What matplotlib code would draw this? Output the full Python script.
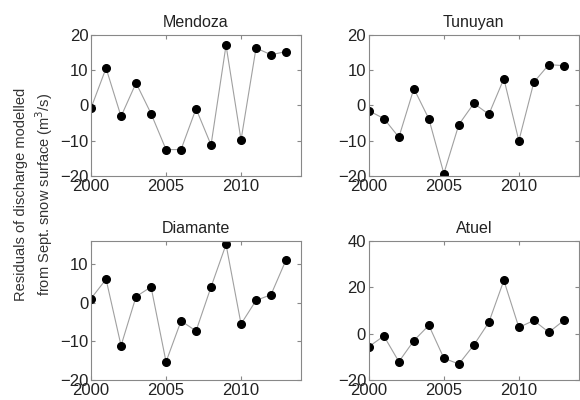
import matplotlib
matplotlib.use('Agg')
import matplotlib.pyplot as plt

plt.rcParams['font.family'] = ['Liberation Sans', 'DejaVu Sans']

years = list(range(2000, 2014))

mendoza = [-0.7, 10.6, -3.1, 6.4, -2.3, -12.5, -12.5, -0.9, -11.2, 17.1, -9.8, 16.3, 14.4, 15.3]
tunuyan = [-1.5, -3.7, -9.0, 4.8, -3.8, -19.3, -5.4, 0.6, -2.5, 7.6, -10.0, 6.6, 11.6, 11.3]
diamante = [1.1, 6.1, -11.1, 1.6, 4.1, -15.3, -4.7, -7.3, 4.1, 15.1, -5.5, 0.6, 2.1, 11.1]
atuel = [-5.6, -1.0, -12.1, -3.0, 3.6, -10.6, -13.1, -4.9, 4.9, 23.0, 2.7, 5.7, 0.6, 5.7]

names = ['Mendoza', 'Tunuyan', 'Diamante', 'Atuel']
series = [mendoza, tunuyan, diamante, atuel]
ylims = [(-20, 20), (-20, 20), (-20, 16), (-20, 40)]
yticks = [[-20, -10, 0, 10, 20], [-20, -10, 0, 10, 20], [-20, -10, 0, 10], [-20, 0, 20, 40]]

fig = plt.figure(figsize=(5.8, 4.0), dpi=100)
pos = [
    [0.157, 0.56, 0.362, 0.3525],
    [0.636, 0.56, 0.362, 0.3525],
    [0.157, 0.05, 0.362, 0.3475],
    [0.636, 0.05, 0.362, 0.3475],
]

for i in range(4):
    ax = fig.add_axes(pos[i])
    ax.plot(years, series[i], color='#a0a0a0', linewidth=0.8, zorder=1)
    ax.plot(years, series[i], 'o', color='black', markersize=5.5, zorder=2)
    ax.set_xlim(2000, 2014)
    ax.set_ylim(ylims[i])
    ax.set_xticks([2000, 2005, 2010])
    ax.set_yticks(yticks[i])
    ax.set_title(names[i], fontsize=11.5, color='#222222', pad=6)
    ax.tick_params(direction='in', top=True, right=True, labelsize=12,
                   length=3, color='#888888', pad=2, labelcolor='#222222')
    for s in ax.spines.values():
        s.set_color('#888888')
        s.set_linewidth(0.8)

fig.text(0.06, 0.515, 'Residuals of discharge modelled\nfrom Sept. snow surface (m$^3$/s)',
         rotation=90, ha='center', va='center', fontsize=10.5, color='#333333',
         linespacing=1.3)

fig.savefig('out.png', dpi=100)
